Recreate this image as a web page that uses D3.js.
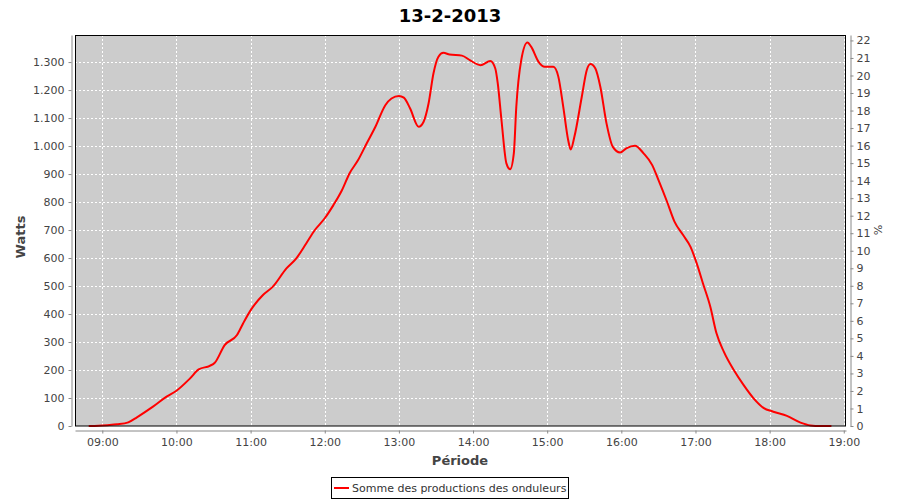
<!DOCTYPE html>
<html>
<head>
<meta charset="utf-8">
<script src="https://cdn.jsdelivr.net/npm/d3@7"></script>
<style>
  body { margin: 0; background: #ffffff; }
  svg { display: block; }
</style>
</head>
<body>
<div id="chart"></div>
<script>
// ---- data ----
const chartTitle = "13-2-2013";
const seriesName = "Somme des productions des onduleurs";
const times = ["08:49","08:57","09:04","09:12","09:21","09:28","09:41","09:52",
  "10:00","10:11","10:18","10:27","10:31","10:39","10:49","10:54",
  "11:01","11:10","11:18","11:29","11:37","11:45","11:52",
  "12:00","12:07","12:14","12:20","12:27","12:34","12:41","12:49","12:54",
  "13:00","13:04","13:09","13:16","13:20","13:24","13:28","13:32","13:36","13:41","13:51","13:58",
  "14:06","14:14","14:18","14:20","14:23","14:27","14:30","14:33","14:35","14:39","14:44","14:47","14:53","14:58",
  "15:05","15:09","15:13","15:17","15:19","15:22","15:28","15:32","15:35","15:39","15:43","15:48","15:53","15:59",
  "16:04","16:11","16:18","16:25","16:30","16:37","16:43","16:50","16:56",
  "17:01","17:06","17:12","17:17","17:23","17:31","17:39","17:47","17:55",
  "18:03","18:14","18:25","18:33","18:41","18:50"];
const watts = [0,1,3,6,13,31,69,105,
  126,170,202,215,226,289,325,367,
  420,468,498,563,599,652,700,
  742,789,843,902,950,1010,1069,1146,1170,
  1179,1173,1135,1069,1087,1152,1260,1319,1333,1327,1323,1305,
  1289,1304,1277,1224,1093,938,917,974,1140,1307,1370,1355,1301,1283,
  1283,1248,1140,1021,988,1033,1176,1271,1293,1277,1212,1081,998,977,
  992,1001,974,932,879,801,730,682,640,
  581,510,426,331,265,200,146,99,65,
  51,36,12,2,0,0];
const xTickLabels = ["09:00","10:00","11:00","12:00","13:00","14:00","15:00","16:00","17:00","18:00","19:00"];
const leftTicks = [0,100,200,300,400,500,600,700,800,900,1000,1100,1200,1300];
const rightTicks = [0,1,2,3,4,5,6,7,8,9,10,11,12,13,14,15,16,17,18,19,20,21,22];
const xDomainLabels = ["08:37.9","19:01.8"];
const leftMax = 1396.7;
const rightMax = 22.31;

// ---- helpers ----
function toMin(s) {
  const p = s.split(":");
  return +p[0] * 60 + +p[1];
}
const data = times.map((t, i) => ({ t: toMin(t), v: watts[i] }));

const W = 900, H = 500;
const plot = { left: 75, right: 846, top: 35, bottom: 426 };

const svg = d3.select("#chart").append("svg")
  .attr("width", W).attr("height", H)
  .style("font-family", "'DejaVu Sans', Verdana, sans-serif");

const x = d3.scaleLinear()
  .domain(xDomainLabels.map(toMin))
  .range([plot.left, plot.right]);
const y = d3.scaleLinear().domain([0, leftMax]).range([plot.bottom, plot.top]);
const y2 = d3.scaleLinear().domain([0, rightMax]).range([plot.bottom, plot.top]);

// plot background
svg.append("rect")
  .attr("x", plot.left).attr("y", plot.top)
  .attr("width", plot.right - plot.left).attr("height", plot.bottom - plot.top)
  .attr("fill", "#cccccc");

// grid
const grid = svg.append("g").attr("stroke", "#ffffff").attr("stroke-width", 1)
  .attr("stroke-dasharray", "2,2").attr("shape-rendering", "crispEdges");
grid.selectAll("line.v").data(xTickLabels).enter().append("line")
  .attr("x1", d => Math.round(x(toMin(d))) + 0.5).attr("x2", d => Math.round(x(toMin(d))) + 0.5)
  .attr("y1", plot.top).attr("y2", plot.bottom);
grid.selectAll("line.h").data(leftTicks).enter().append("line")
  .attr("y1", d => Math.round(y(d)) + 0.5).attr("y2", d => Math.round(y(d)) + 0.5)
  .attr("x1", plot.left).attr("x2", plot.right);

// series line
const line = d3.line().x(d => x(d.t)).y(d => y(d.v)).curve(d3.curveMonotoneX);
svg.append("path").datum(data)
  .attr("d", line)
  .attr("fill", "none").attr("stroke", "#ff0000").attr("stroke-width", 2)
  .attr("stroke-linejoin", "round");

// plot border
svg.append("rect")
  .attr("x", plot.left + 0.5).attr("y", plot.top + 0.5)
  .attr("width", plot.right - plot.left - 1).attr("height", plot.bottom - plot.top - 0.5)
  .attr("fill", "none").attr("stroke", "#000000").attr("stroke-width", 1);

// axes
const locale = d3.formatLocale({ decimal: ",", thousands: ".", grouping: [3], currency: ["", ""] });
const fmt = locale.format(",d");

function styleAxis(g) {
  g.select(".domain").attr("stroke", "#888888");
  g.selectAll(".tick line").attr("stroke", "#888888");
  g.selectAll(".tick text").attr("fill", "#444444").style("font-size", "11px")
    .style("font-family", "'DejaVu Sans', Verdana, sans-serif");
}

const gl = svg.append("g").attr("transform", "translate(71.5,0)")
  .call(d3.axisLeft(y).tickValues(leftTicks).tickFormat(fmt).tickSize(3).tickSizeOuter(0).tickPadding(4));
styleAxis(gl);

const gr = svg.append("g").attr("transform", "translate(850.5,0)")
  .call(d3.axisRight(y2).tickValues(rightTicks).tickFormat(d3.format("d")).tickSize(3).tickSizeOuter(0).tickPadding(3));
styleAxis(gr);

const gb = svg.append("g").attr("transform", "translate(0,430.5)")
  .call(d3.axisBottom(x).tickValues(xTickLabels.map(toMin))
    .tickFormat((d, i) => xTickLabels[i]).tickSize(3).tickSizeOuter(0).tickPadding(5));
styleAxis(gb);

// title
svg.append("text").attr("x", 450).attr("y", 22).attr("text-anchor", "middle")
  .style("font-size", "18px").style("font-weight", "bold").attr("fill", "#000000")
  .text(chartTitle);

// axis labels
svg.append("text").attr("transform", "translate(25,237) rotate(-90)")
  .attr("text-anchor", "middle").style("font-size", "13px").style("font-weight", "bold")
  .attr("fill", "#444444").text("Watts");
svg.append("text").attr("x", 460).attr("y", 465).attr("text-anchor", "middle")
  .style("font-size", "13px").style("font-weight", "bold").attr("fill", "#444444")
  .text("Période");
svg.append("text").attr("transform", "translate(874,230) rotate(90)")
  .attr("text-anchor", "middle").style("font-size", "11px")
  .attr("fill", "#444444").text("%");

// legend
const leg = svg.append("g");
leg.append("rect").attr("x", 331.5).attr("y", 477.5).attr("width", 237).attr("height", 21)
  .attr("fill", "#ffffff").attr("stroke", "#000000").attr("stroke-width", 1);
leg.append("line").attr("x1", 334).attr("x2", 349).attr("y1", 488).attr("y2", 488)
  .attr("stroke", "#ff0000").attr("stroke-width", 2);
leg.append("text").attr("x", 352).attr("y", 492).style("font-size", "11px")
  .attr("fill", "#333333").text(seriesName);
</script>
</body>
</html>
